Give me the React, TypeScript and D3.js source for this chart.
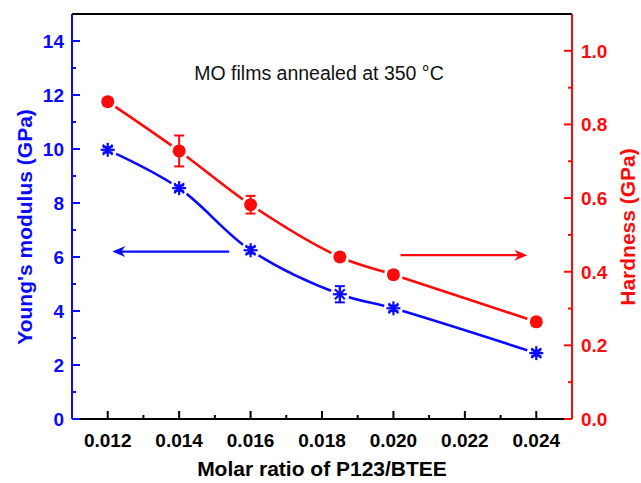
import React from "react";
import * as d3 from "d3";

const ratios = [0.012, 0.014, 0.016, 0.0185, 0.02, 0.024];
const modulus = [9.97, 8.55, 6.25, 4.62, 4.1, 2.44];
const modulusErr = [0.1, 0.1, 0.12, 0.3, 0.1, 0.1];
const hardness = [0.862, 0.728, 0.582, 0.44, 0.392, 0.264];
const hardnessErr = [0.01, 0.042, 0.024, 0.01, 0.01, 0.01];
const xTicks = [0.012, 0.014, 0.016, 0.018, 0.02, 0.022, 0.024];
const xMinor = [0.013, 0.015, 0.017, 0.019, 0.021, 0.023];
const yLeftTicks = [0, 2, 4, 6, 8, 10, 12, 14];
const yLeftMinor = [1, 3, 5, 7, 9, 11, 13];
const yRightTicks = [0, 0.2, 0.4, 0.6, 0.8, 1.0];
const yRightMinor = [0.1, 0.3, 0.5, 0.7, 0.9];
const title = "MO films annealed at 350 °C";

const BLUE = "#0a0aff";
const RED = "#ff0a0a";
const FONT = "'Liberation Sans', Arial, sans-serif";

export default function App() {
  const L = 72, R = 572, T = 14, B = 419;
  const x = d3.scaleLinear().domain([0.011, 0.025]).range([L, R]);
  const yL = d3.scaleLinear().domain([0, 15]).range([B, T]);
  const yR = d3.scaleLinear().domain([0, 1.1]).range([B, T]);

  const lineL = d3.line<number>().x((_, i) => x(ratios[i])).y((d) => yL(d)).curve(d3.curveCatmullRom.alpha(0.5));
  const lineR = d3.line<number>().x((_, i) => x(ratios[i])).y((d) => yR(d)).curve(d3.curveCatmullRom.alpha(0.5));

  const star = (cx: number, cy: number, r: number, key: string) => {
    const angles = [0, 45, 90, 135];
    return (
      <g key={key}>
        {angles.map((a) => {
          const rad = (a * Math.PI) / 180;
          const dx = Math.cos(rad) * r, dy = Math.sin(rad) * r;
          return <line key={a} x1={cx - dx} y1={cy - dy} x2={cx + dx} y2={cy + dy} stroke={BLUE} strokeWidth={2.2} />;
        })}
      </g>
    );
  };

  const arrowHead = (tipX: number, y: number, dir: number, color: string) => (
    <path d={`M${tipX - dir * 13},${y - 5.5} L${tipX},${y} L${tipX - dir * 13},${y + 5.5} L${tipX - dir * 9},${y} Z`} fill={color} />
  );

  return (
    <svg width={641} height={483} style={{ display: "block", position: "absolute", left: 0, top: 0, background: "#fff" }} fontFamily={FONT}>
      <rect x={0} y={0} width={641} height={483} fill="#fff" />
      {/* lines */}
      <path d={lineL(modulus) || ""} fill="none" stroke={BLUE} strokeWidth={2.6} />
      <path d={lineR(hardness) || ""} fill="none" stroke={RED} strokeWidth={2.6} />
      {/* gaps around markers */}
      {ratios.map((r, i) => (
        <g key={"m" + i}>
          <circle cx={x(r)} cy={yL(modulus[i])} r={9.5} fill="#fff" />
          <circle cx={x(r)} cy={yR(hardness[i])} r={9.5} fill="#fff" />
        </g>
      ))}
      {/* error bars */}
      {ratios.map((r, i) => {
        const cx = x(r);
        const y1 = yL(modulus[i] - modulusErr[i]), y2 = yL(modulus[i] + modulusErr[i]);
        const h1 = yR(hardness[i] - hardnessErr[i]), h2 = yR(hardness[i] + hardnessErr[i]);
        return (
          <g key={"e" + i}>
            <line x1={cx} x2={cx} y1={y1} y2={y2} stroke={BLUE} strokeWidth={2} />
            <line x1={cx - 5} x2={cx + 5} y1={y1} y2={y1} stroke={BLUE} strokeWidth={2} />
            <line x1={cx - 5} x2={cx + 5} y1={y2} y2={y2} stroke={BLUE} strokeWidth={2} />
            <line x1={cx} x2={cx} y1={h1} y2={h2} stroke={RED} strokeWidth={2} />
            <line x1={cx - 5} x2={cx + 5} y1={h1} y2={h1} stroke={RED} strokeWidth={2} />
            <line x1={cx - 5} x2={cx + 5} y1={h2} y2={h2} stroke={RED} strokeWidth={2} />
          </g>
        );
      })}
      {/* markers */}
      {ratios.map((r, i) => star(x(r), yL(modulus[i]), 7, "s" + i))}
      {ratios.map((r, i) => (
        <circle key={"c" + i} cx={x(r)} cy={yR(hardness[i])} r={6.5} fill={RED} />
      ))}
      {/* arrows */}
      <line x1={x(0.0154)} x2={x(0.0122)} y1={yL(6.2)} y2={yL(6.2)} stroke={BLUE} strokeWidth={2.2} />
      {arrowHead(x(0.01213), yL(6.2), -1, BLUE)}
      <line x1={x(0.0202)} x2={x(0.02365)} y1={yR(0.445)} y2={yR(0.445)} stroke={RED} strokeWidth={2.2} />
      {arrowHead(x(0.02375), yR(0.445), 1, RED)}
      {/* title */}
      <text x={319} y={80} textAnchor="middle" fontSize={19.5} fill="#111">{title}</text>
      {/* frame */}
      <line x1={L} x2={R} y1={T} y2={T} stroke="#000" strokeWidth={2} />
      <line x1={L} x2={R} y1={B} y2={B} stroke="#000" strokeWidth={2} />
      <line x1={L} x2={L} y1={T} y2={B} stroke={BLUE} strokeWidth={2} />
      <line x1={R} x2={R} y1={T} y2={B} stroke={RED} strokeWidth={2} />
      {/* x ticks */}
      {xTicks.map((t) => (
        <g key={"xt" + t}>
          <line x1={x(t)} x2={x(t)} y1={B} y2={B - 8} stroke="#000" strokeWidth={2} />
          <text x={x(t)} y={447} textAnchor="middle" fontSize={19} fontWeight="bold" fill="#000">{d3.format(".3f")(t)}</text>
        </g>
      ))}
      {xMinor.map((t) => (
        <line key={"xm" + t} x1={x(t)} x2={x(t)} y1={B} y2={B - 4} stroke="#000" strokeWidth={2} />
      ))}
      {/* left ticks */}
      {yLeftTicks.map((t) => (
        <g key={"yl" + t}>
          <line x1={L} x2={L + 8} y1={yL(t)} y2={yL(t)} stroke={BLUE} strokeWidth={2} />
          <text x={64} y={yL(t)} dy="0.36em" textAnchor="end" fontSize={19} fontWeight="bold" fill={BLUE}>{t}</text>
        </g>
      ))}
      {yLeftMinor.map((t) => (
        <line key={"ylm" + t} x1={L} x2={L + 4} y1={yL(t)} y2={yL(t)} stroke={BLUE} strokeWidth={2} />
      ))}
      {/* right ticks */}
      {yRightTicks.map((t) => (
        <g key={"yr" + t}>
          <line x1={R} x2={R - 8} y1={yR(t)} y2={yR(t)} stroke={RED} strokeWidth={2} />
          <text x={581} y={yR(t)} dy="0.36em" textAnchor="start" fontSize={19} fontWeight="bold" fill={RED}>{d3.format(".1f")(t)}</text>
        </g>
      ))}
      {yRightMinor.map((t) => (
        <line key={"yrm" + t} x1={R} x2={R - 4} y1={yR(t)} y2={yR(t)} stroke={RED} strokeWidth={2} />
      ))}
      {/* axis titles */}
      <text x={322} y={476} textAnchor="middle" fontSize={21} fontWeight="bold" fill="#000">Molar ratio of P123/BTEE</text>
      <text transform={`translate(32,227) rotate(-90)`} textAnchor="middle" fontSize={21} fontWeight="bold" fill={BLUE}>Young's modulus (GPa)</text>
      <text transform={`translate(635,227) rotate(-90)`} textAnchor="middle" fontSize={21} fontWeight="bold" fill={RED}>Hardness (GPa)</text>
    </svg>
  );
}
